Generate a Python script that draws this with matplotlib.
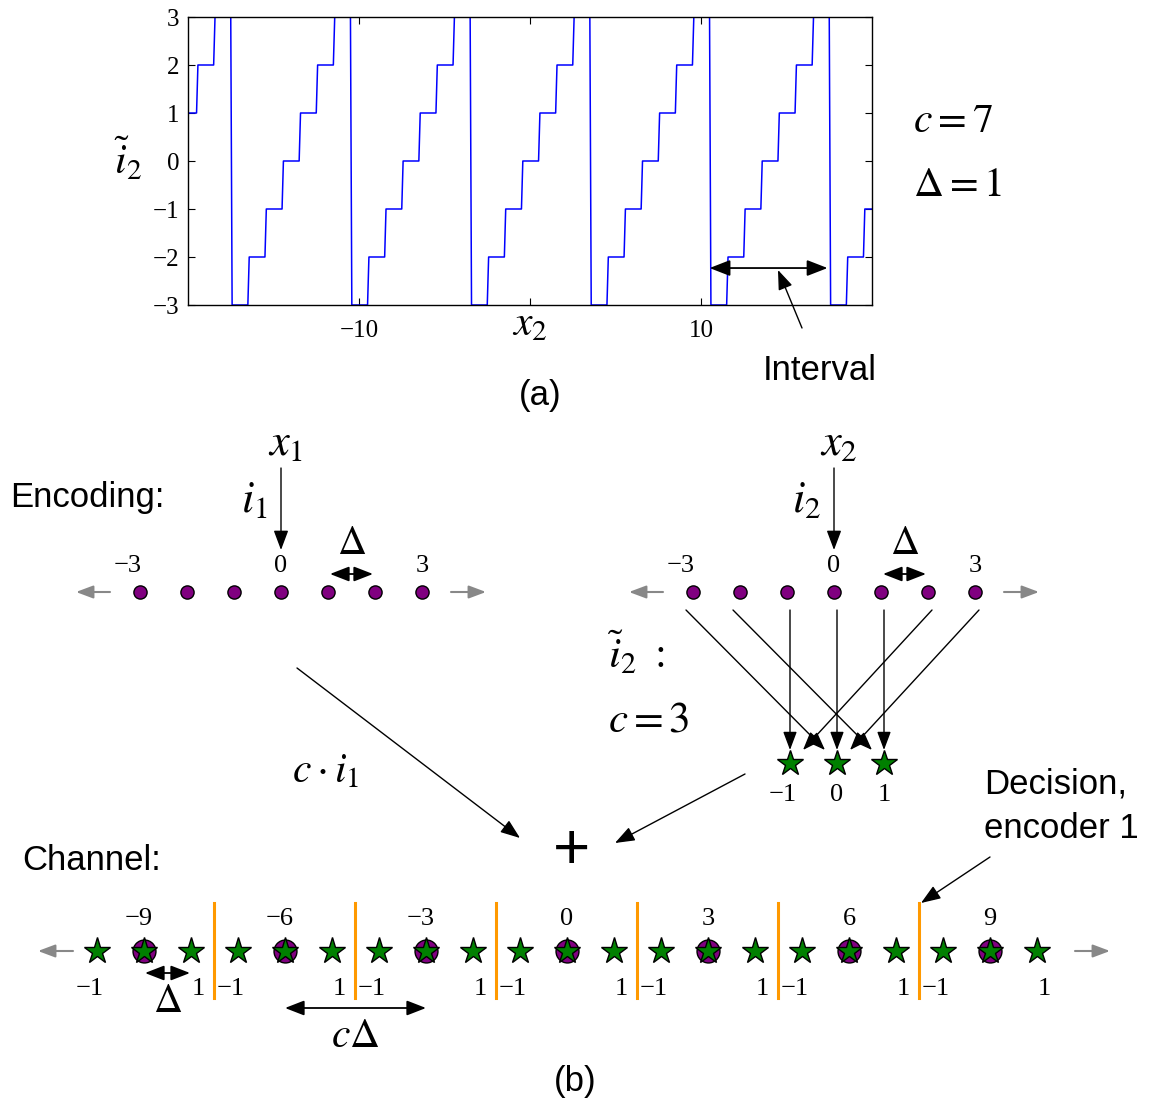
import matplotlib
matplotlib.use('Agg')
import matplotlib.pyplot as plt
import numpy as np

plt.rcParams['mathtext.fontset'] = 'stix'
plt.rcParams['font.family'] = 'Liberation Serif'

W, H = 1151, 1108

# ---- (a) modulo-quantised index i2~ against x2  (c = 7, Delta = 1)
x2_points = list(range(-20, 21))
i2_mod = [1, 2, 3, -3, -2, -1, 0, 1, 2, 3, -3, -2, -1, 0, 1, 2, 3,
          -3, -2, -1, 0, 1, 2, 3, -3, -2, -1, 0, 1, 2, 3,
          -3, -2, -1, 0, 1, 2, 3, -3, -2, -1]
interval = (10.5, 17.4)

# ---- (b) encoding / channel diagram
enc_index = [-3, -2, -1, 0, 1, 2, 3]
enc_labels = {-3: '−3', 0: '0', 3: '3'}
mod_index = [-1, 0, 1]
mod_labels = ['−1', '0', '1']
mod_of_enc = [0, 1, -1, 0, 1, -1, 0]      # i2 -> i2~ for c = 3
chan_index = list(range(-10, 11))
chan_centres = [-9, -6, -3, 0, 3, 6, 9]
chan_centre_labels = ['−9', '−6', '−3', '0', '3', '6', '9']
decision_bounds = [-7.5, -4.5, -1.5, 1.5, 4.5, 7.5]

PURPLE = '#800080'
GREEN = '#008000'
ORANGE = '#ff9900'
GRAY = '#888888'
SANS = 'Liberation Sans'
NUM = 19


def arrow(ax, p0, p1, style='-|>', color='k', lw=1.0, ms=14, hl=0.8, hw=0.3):
    ax.annotate('', xy=p1, xytext=p0,
                arrowprops=dict(arrowstyle=f'{style},head_length={hl},head_width={hw}',
                                color=color, lw=lw, shrinkA=0, shrinkB=0,
                                mutation_scale=ms))


fig = plt.figure(figsize=(W / 100, H / 100), dpi=100)

# ---------------- (a) ----------------
ax = fig.add_axes([188 / W, 1 - 305 / H, 684 / W, 288 / H])
ramp = 0.08
xs, ys = [], []
for n, lev in zip(x2_points, i2_mod):
    xs += [n - 0.5 + ramp, n + 0.5]
    ys += [lev, lev]
ax.plot(xs, ys, color='#0000ff', lw=1.1)
ax.set_xlim(-20, 20)
ax.set_ylim(-3, 3)
ax.set_xticks([-10, 0, 10])
ax.set_xticklabels(['−10', '', '10'])
ax.set_yticks(range(-3, 4))
ax.set_yticklabels(['−3', '−2', '−1', '0', '1', '2', '3'])
ax.tick_params(direction='in', top=True, right=True, length=5, width=0.8,
               labelsize=18)
ax.tick_params(axis='x', pad=11)
ax.tick_params(axis='y', pad=6)
for s in ax.spines.values():
    s.set_linewidth(1.0)
arrow(ax, (interval[0], -2.23), (interval[1], -2.23), style='<|-|>',
      lw=1.3, ms=14, hl=0.9, hw=0.35)

fig.text(530 / W, 1 - 325 / H, r'$x_2$', fontsize=30, ha='center', va='center')
fig.text(128 / W, 1 - 160 / H, r'$\tilde{i}_2$', fontsize=30, ha='center', va='center')
fig.text(913 / W, 1 - 132 / H, r'$c=7$', fontsize=30, ha='left', va='baseline')
fig.text(913 / W, 1 - 196 / H, r'$\Delta=1$', fontsize=30, ha='left', va='baseline')
fig.text(820 / W, 1 - 371 / H, 'Interval', family=SANS, fontsize=25,
         ha='center', va='center')
fig.text(540 / W, 1 - 395 / H, '(a)', family=SANS, fontsize=25,
         ha='center', va='center')

# ---------------- (b) : overlay in pixel units ----------------
ov = fig.add_axes([0, 0, 1, 1])
ov.set_xlim(0, W)
ov.set_ylim(H, 0)
ov.axis('off')
ov.patch.set_alpha(0)

# pointer to the interval arrow in (a)
arrow(ov, (802, 328), (778, 270), lw=1.0, ms=15)

STEP = 47
ENC_Y = 592
for x0, sub in [(281, '1'), (834, '2')]:
    ex = x0 + STEP * np.array(enc_index)
    ov.plot(ex, [ENC_Y] * len(ex), 'o', ms=9.5, mfc=PURPLE, mec='k', mew=1, zorder=5)
    for v, lab in enc_labels.items():
        dx = -12 if v < 0 else 0
        ov.text(x0 + STEP * v + dx, 566, lab, fontsize=NUM, ha='center', va='center')
    arrow(ov, (x0 - 171, ENC_Y), (x0 - 205, ENC_Y), color=GRAY, lw=1.5, ms=13)
    arrow(ov, (x0 + 170, ENC_Y), (x0 + 205, ENC_Y), color=GRAY, lw=1.5, ms=13)
    arrow(ov, (x0 + STEP + 2, 574), (x0 + 2 * STEP - 2, 574), style='<|-|>',
          lw=1.3, ms=13, hl=0.9, hw=0.35)
    ov.text(x0 + 1.5 * STEP, 554, r'$\Delta$', fontsize=29, ha='center', va='baseline')
    arrow(ov, (x0, 468), (x0, 550), lw=1.0, ms=15)
    ov.text(x0 + 5, 455, r'$x_{%s}$' % sub, fontsize=32, ha='center', va='baseline')
    ov.text(x0 - 27, 512, r'$i_{%s}$' % sub, fontsize=32, ha='center', va='baseline')

ov.text(10, 507, 'Encoding:', family=SANS, fontsize=25, ha='left', va='baseline')

# modulo mapping i2 -> i2~
STAR_X0, STAR_Y = 837, 763
for d, m in zip(enc_index, mod_of_enc):
    dot_x = 834 + STEP * d
    star_x = STAR_X0 + STEP * m
    if d == m:
        arrow(ov, (star_x, 610), (star_x, 750), lw=1.0, ms=14)
    elif d < 0:
        arrow(ov, (dot_x - 7, 610), (star_x - 12, 750), lw=1.0, ms=14)
    else:
        arrow(ov, (dot_x + 4, 610), (star_x + 13, 750), lw=1.0, ms=14)
sx = STAR_X0 + STEP * np.array(mod_index)
ov.plot(sx, [STAR_Y] * len(sx), '*', ms=19, mfc=GREEN, mec='k', mew=1, zorder=5)
for m, lab in zip(mod_index, mod_labels):
    dx = -7 if m < 0 else 0
    ov.text(STAR_X0 + STEP * m + dx, 795, lab, fontsize=NUM, ha='center', va='center')

ov.text(608, 668, r'$\tilde{i}_2\ :$', fontsize=31, ha='left', va='baseline')
ov.text(608, 732, r'$c=3$', fontsize=31, ha='left', va='baseline')
ov.text(292, 782, r'$c\cdot i_1$', fontsize=30, ha='left', va='baseline')

arrow(ov, (297, 668), (520, 838), lw=1.0, ms=15)
arrow(ov, (745, 774), (615, 843), lw=1.0, ms=15)
ov.text(572, 852, '+', family=SANS, fontsize=46, ha='center', va='center')

ov.text(984, 793, 'Decision,', family=SANS, fontsize=25, ha='left', va='baseline')
ov.text(984, 838, 'encoder 1', family=SANS, fontsize=25, ha='left', va='baseline')
arrow(ov, (990, 857), (921, 903), lw=1.0, ms=15)

# channel
CH_X0, CH_Y = 567, 951
ov.text(22, 870, 'Channel:', family=SANS, fontsize=25, ha='left', va='baseline')
for b in decision_bounds:
    bx = CH_X0 + STEP * b
    ov.plot([bx, bx], [903, 998], color=ORANGE, lw=2.2, zorder=3)
cx = CH_X0 + STEP * np.array(chan_centres)
ov.plot(cx, [CH_Y] * len(cx), 'o', ms=16.5, mfc=PURPLE, mec='k', mew=1, zorder=5)
kx = CH_X0 + STEP * np.array(chan_index)
ov.plot(kx, [CH_Y] * len(kx), '*', ms=20, mfc=GREEN, mec='k', mew=1, zorder=6)
for c, lab in zip(chan_centres, chan_centre_labels):
    dx = -5 if c < 0 else 0
    ov.text(CH_X0 + STEP * c + dx, 919, lab, fontsize=NUM, ha='center', va='center')
    ov.text(CH_X0 + STEP * (c - 1) - 7, 989, '−1', fontsize=NUM, ha='center', va='center')
    ov.text(CH_X0 + STEP * (c + 1) + 7, 989, '1', fontsize=NUM, ha='center', va='center')

left_end = CH_X0 + STEP * chan_index[0]
right_end = CH_X0 + STEP * chan_index[-1]
arrow(ov, (left_end - 24, CH_Y), (left_end - 59, CH_Y), color=GRAY, lw=1.5, ms=13)
arrow(ov, (right_end + 38, CH_Y), (right_end + 73, CH_Y), color=GRAY, lw=1.5, ms=13)

d0 = CH_X0 + STEP * chan_centres[0]
arrow(ov, (d0 + 1, 973), (d0 + STEP - 1, 973), style='<|-|>', lw=1.3, ms=13, hl=0.9, hw=0.35)
ov.text(d0 + STEP / 2, 1012, r'$\Delta$', fontsize=29, ha='center', va='baseline')
c0 = CH_X0 + STEP * chan_centres[1]
c1 = CH_X0 + STEP * chan_centres[2]
arrow(ov, (c0, 1008), (c1, 1008), style='<|-|>', lw=1.3, ms=13, hl=0.9, hw=0.35)
ov.text((c0 + c1) / 2, 1047, r'$c\Delta$', fontsize=30, ha='center', va='baseline')

ov.text(575, 1082, '(b)', family=SANS, fontsize=25, ha='center', va='center')

fig.savefig('out.png', dpi=100)
